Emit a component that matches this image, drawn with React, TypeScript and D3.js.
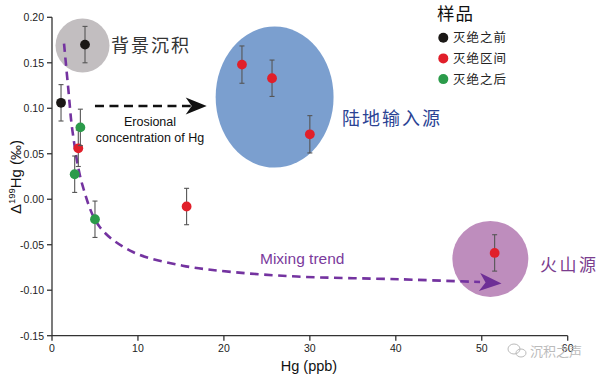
import React from "react";
import * as d3 from "d3";

// ---------- data ----------
const preExtinction = [
  { x: 3.84, y: 0.17, e: 0.02 },
  { x: 1.05, y: 0.106, e: 0.02 },
];
const duringExtinction = [
  { x: 3.06, y: 0.056, e: 0.02 },
  { x: 22.1, y: 0.148, e: 0.0205 },
  { x: 25.6, y: 0.133, e: 0.02 },
  { x: 30.0, y: 0.0714, e: 0.0205 },
  { x: 15.66, y: -0.008, e: 0.02 },
  { x: 51.5, y: -0.059, e: 0.02 },
];
const postExtinction = [
  { x: 3.3, y: 0.079, e: 0.02 },
  { x: 2.64, y: 0.0275, e: 0.02 },
  { x: 5.0, y: -0.022, e: 0.02 },
];
// source regions (data units)
const sourceRegions = [
  { name: "background", cx: 3.55, cy: 0.169, rx: 3.14, ry: 0.0297 },
  { name: "terrestrial", cx: 25.9, cy: 0.1123, rx: 6.86, ry: 0.0775 },
  { name: "volcanic", cx: 51.0, cy: -0.0656, rx: 4.42, ry: 0.0418 },
];
// mixing trend line (data units)
const mixingTrend: [number, number][] = [
  [1.4, 0.171], [1.9, 0.121], [2.4, 0.0737], [3.57, 0.0146], [5.58, -0.0308],
  [9.42, -0.058], [15.2, -0.073], [21.0, -0.08], [28.5, -0.085], [40.5, -0.088],
  [49.8, -0.091],
];
const mixingArrowTip: [number, number] = [52.3, -0.0927];
const erosionArrow: [number, number][] = [[5.0, 0.1026], [18.0, 0.1026]];

const xTicks = [0, 10, 20, 30, 40, 50, 60];
const yTicks = [-0.15, -0.1, -0.05, 0, 0.05, 0.1, 0.15, 0.2];
const legendItems = ["灭绝之前", "灭绝区间", "灭绝之后"];

const COLORS = { pre: "#1b1816", during: "#e11f2a", post: "#2b9b4a" };
const regionColors: Record<string, string> = {
  background: "#c2bec0",
  terrestrial: "#7b9fcf",
  volcanic: "#be8dbd",
};

const W = 600, H = 378;
const x = d3.scaleLinear().domain([0, 60]).range([52, 567.7]);
const y = d3.scaleLinear().domain([-0.15, 0.2]).range([335.7, 17.3]);

const fmtY = (v: number) => d3.format(".2f")(v).replace("−", "-");
const CJK = "'Noto Sans CJK SC', sans-serif";
const LAT = "'Liberation Sans', Arial, sans-serif";

function stealth(tipX: number, tipY: number, angle: number, len: number, half: number, notch: number) {
  const pts: [number, number][] = [
    [0, 0],
    [-len, -half],
    [-len + notch, 0],
    [-len, half],
  ];
  const c = Math.cos(angle), s = Math.sin(angle);
  return (
    "M" +
    pts.map(([px, py]) => `${tipX + px * c - py * s},${tipY + px * s + py * c}`).join("L") +
    "Z"
  );
}

export default function App() {
  const line = d3
    .line<[number, number]>()
    .x((d) => x(d[0]))
    .y((d) => y(d[1]))
    .curve(d3.curveCatmullRom.alpha(0.5));
  const last = mixingTrend[mixingTrend.length - 1];
  const mAngle = Math.atan2(y(mixingArrowTip[1]) - y(last[1]), x(mixingArrowTip[0]) - x(last[0]));

  const eStartX = x(erosionArrow[0][0]);
  const eTipX = x(erosionArrow[1][0]);
  const eY = y(erosionArrow[0][1]);

  const groups = [
    { pts: preExtinction, color: COLORS.pre },
    { pts: duringExtinction, color: COLORS.during },
    { pts: postExtinction, color: COLORS.post },
  ];

  return (
    <svg
      width={W}
      height={H}
      style={{ position: "absolute", left: 0, top: 0, background: "#fff" }}
    >
      {/* source regions */}
      {sourceRegions.map((r) => (
        <ellipse
          key={r.name}
          cx={x(r.cx)}
          cy={y(r.cy)}
          rx={x(r.cx + r.rx) - x(r.cx)}
          ry={y(r.cy - r.ry) - y(r.cy)}
          fill={regionColors[r.name]}
        />
      ))}

      {/* axes */}
      <g stroke="#333" strokeWidth={1.3} fill="none">
        <line x1={x(0)} x2={x(60)} y1={y(-0.15)} y2={y(-0.15)} />
        <line x1={x(0)} x2={x(0)} y1={y(-0.15)} y2={y(0.2)} />
        {xTicks.map((t) => (
          <line key={t} x1={x(t)} x2={x(t)} y1={y(-0.15)} y2={y(-0.15) + 5} />
        ))}
        {yTicks.map((t) => (
          <line key={t} x1={x(0) - 5} x2={x(0)} y1={y(t)} y2={y(t)} />
        ))}
      </g>
      <g fontFamily={LAT} fontSize={10.5} fill="#222">
        {xTicks.map((t) => (
          <text key={t} x={x(t)} y={y(-0.15) + 16} textAnchor="middle">
            {t}
          </text>
        ))}
        {yTicks.map((t) => (
          <text key={t} x={x(0) - 8} y={y(t) + 3.8} textAnchor="end">
            {fmtY(t)}
          </text>
        ))}
      </g>
      <text x={309} y={371} fontFamily={LAT} fontSize={14.5} textAnchor="middle" fill="#111">
        Hg (ppb)
      </text>
      <text
        transform="translate(21,177) rotate(-90)"
        fontFamily={LAT}
        fontSize={15}
        textAnchor="middle"
        fill="#111"
      >
        Δ<tspan fontSize={9.5} dy={-6}>199</tspan>
        <tspan dy={6}>Hg (‰)</tspan>
      </text>

      {/* erosion arrow */}
      <line
        x1={eStartX}
        x2={eTipX - 16}
        y1={eY}
        y2={eY}
        stroke="#111"
        strokeWidth={2.5}
        strokeDasharray="9,5.5"
      />
      <path d={stealth(eTipX, eY, 0, 21, 8.5, 6)} fill="#111" />
      <text x={150} y={125.5} fontFamily={LAT} fontSize={12.5} textAnchor="middle" fill="#111">
        Erosional
      </text>
      <text x={150} y={142} fontFamily={LAT} fontSize={12.5} textAnchor="middle" fill="#111">
        concentration of Hg
      </text>

      {/* mixing trend */}
      <path
        d={line(mixingTrend) || ""}
        fill="none"
        stroke="#7433a0"
        strokeWidth={2.6}
        strokeDasharray="8.5,5.5"
      />
      <path
        d={stealth(x(mixingArrowTip[0]), y(mixingArrowTip[1]), mAngle, 22, 9, 6)}
        fill="#6e2f96"
      />
      <text x={260} y={264} fontFamily={LAT} fontSize={15.5} fill="#7a3a9c">
        Mixing trend
      </text>

      {/* error bars and points */}
      {groups.map((g, gi) => (
        <g key={gi}>
          {g.pts.map((p, i) => (
            <g key={i} stroke="#555" strokeWidth={1.1}>
              <line x1={x(p.x)} x2={x(p.x)} y1={y(p.y - p.e)} y2={y(p.y + p.e)} />
              <line x1={x(p.x) - 2.5} x2={x(p.x) + 2.5} y1={y(p.y - p.e)} y2={y(p.y - p.e)} />
              <line x1={x(p.x) - 2.5} x2={x(p.x) + 2.5} y1={y(p.y + p.e)} y2={y(p.y + p.e)} />
            </g>
          ))}
          {g.pts.map((p, i) => (
            <circle key={"c" + i} cx={x(p.x)} cy={y(p.y)} r={4.9} fill={g.color} />
          ))}
        </g>
      ))}

      {/* region labels */}
      <text x={111} y={51.5} fontFamily={CJK} fontSize={18} letterSpacing={2} fill="#333">
        背景沉积
      </text>
      <text x={342} y={124.5} fontFamily={CJK} fontSize={18} letterSpacing={2} fill="#2b4394">
        陆地输入源
      </text>
      <text x={540} y={271} fontFamily={CJK} fontSize={17} letterSpacing={2.5} fill="#7b3d8e">
        火山源
      </text>

      {/* legend */}
      <text x={437} y={20} fontFamily={CJK} fontSize={17.5} letterSpacing={1} fill="#111">
        样品
      </text>
      {legendItems.map((t, i) => (
        <g key={t}>
          <circle
            cx={443.3}
            cy={37.7 + i * 20.7}
            r={5}
            fill={[COLORS.pre, COLORS.during, COLORS.post][i]}
          />
          <text
            x={453}
            y={37.7 + i * 20.7 + 4.5}
            fontFamily={CJK}
            fontSize={12.5}
            letterSpacing={1}
            fill="#222"
          >
            {t}
          </text>
        </g>
      ))}

      {/* watermark */}
      <g stroke="#bbb" fill="none" strokeWidth={1}>
        <ellipse cx={514} cy={349} rx={6} ry={5} />
        <ellipse cx={521} cy={353} rx={5} ry={4} />
      </g>
      <text x={530} y={356} fontFamily={CJK} fontSize={13} fill="#bbb">
        沉积之声
      </text>
    </svg>
  );
}
